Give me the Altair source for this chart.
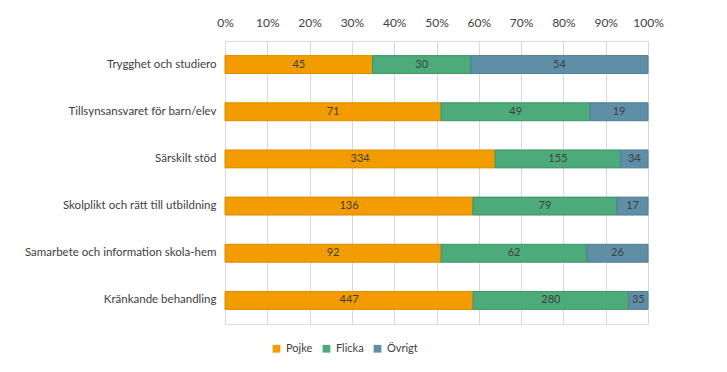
import altair as alt
import pandas as pd

categories = [
    "Trygghet och studiero",
    "Tillsynsansvaret för barn/elev",
    "Särskilt stöd",
    "Skolplikt och rätt till utbildning",
    "Samarbete och information skola-hem",
    "Kränkande behandling",
]
series = ["Pojke", "Flicka", "Övrigt"]
pojke = [45, 71, 334, 136, 92, 447]
flicka = [30, 49, 155, 79, 62, 280]
ovrigt = [54, 19, 34, 17, 26, 35]
colors = ["#F39C00", "#4DAA7A", "#5E8FA6"]
strokes = ["#D98C00", "#3E9468", "#4F7E94"]

rows = []
for i, c in enumerate(categories):
    for j, (s, vals) in enumerate(zip(series, [pojke, flicka, ovrigt])):
        rows.append({"cat": c, "serie": s, "order": j, "value": vals[i]})
df = pd.DataFrame(rows)

font = "Lato"

base = alt.Chart(df).transform_stack(
    stack="value", as_=["start", "end"], groupby=["cat"], sort=[alt.SortField("order")], offset="normalize"
).transform_calculate(mid="(datum.start + datum.end) / 2")

y = alt.Y("cat:N", sort=categories, title=None,
          scale=alt.Scale(paddingInner=0.62, paddingOuter=0.31),
          axis=alt.Axis(domain=False, ticks=False, labelPadding=9, labelFontSize=11.5,
                        labelColor="#404040", labelFont=font, labelLimit=300))

bars = base.mark_bar(strokeWidth=1).encode(
    x=alt.X("start:Q", scale=alt.Scale(domain=[0, 1], nice=False), title=None,
            axis=alt.Axis(orient="top", format="%", values=[i / 10 for i in range(11)],
                          domain=False, ticks=False, labelPadding=12, labelFontSize=12,
                          labelColor="#404040", labelFont=font, gridColor="#D9D9D9",
                          labelFlush=False)),
    x2="end:Q",
    y=y,
    color=alt.Color("serie:N", scale=alt.Scale(domain=series, range=colors), sort=series,
                    legend=alt.Legend(title=None, orient="none", direction="horizontal",
                                      legendX=46, legendY=302, symbolType="square",
                                      symbolSize=60, labelFontSize=11, labelFont=font,
                                      labelColor="#404040", columnPadding=8, symbolStrokeWidth=0)),
    stroke=alt.Stroke("serie:N", scale=alt.Scale(domain=series, range=strokes), legend=None),
)

labels = base.mark_text(fontSize=11, font=font, color="#404040").encode(
    x="mid:Q",
    y=alt.Y("cat:N", sort=categories),
    text="value:Q",
)

chart = (bars + labels).properties(
    width=423, height=283,
    padding={"left": 217, "top": 33, "right": 71, "bottom": 40},
    autosize=alt.AutoSizeParams(type="none"),
).configure_view(stroke=None).configure(background="white")

chart.save("out.html", embed_options={"renderer": "svg", "actions": False})
